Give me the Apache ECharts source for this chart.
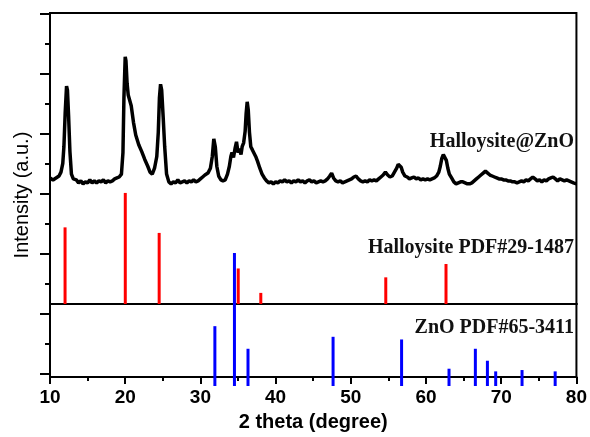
<!DOCTYPE html>
<html>
<head>
<meta charset="utf-8">
<script src="https://cdn.jsdelivr.net/npm/echarts@6.0.0/dist/echarts.min.js"></script>
<style>
  html, body { margin: 0; padding: 0; background: #fff; }
  #chart { width: 590px; height: 437px; }
</style>
</head>
<body>
<div id="chart"></div>
<script>
// Halloysite@ZnO measured pattern (2 theta in degree, counts a.u.)
const twoTheta = [
  10.0, 10.4, 10.8, 11.2, 11.46, 11.7, 11.85, 12.02, 12.2, 12.32, 12.48, 12.65, 12.85, 13.1, 13.5,
  13.8, 14.1, 14.4, 14.7, 15.0, 15.3, 15.6, 15.9, 16.2, 16.5, 16.8, 17.1, 17.4, 17.7, 18.0, 18.3, 18.6,
  18.9, 19.2, 19.5, 19.7, 19.83, 20.0, 20.1, 20.25, 20.4, 20.6, 20.8, 21.1, 21.4, 21.8, 22.2, 22.6,
  23.0, 23.3, 23.6, 23.9, 24.2, 24.4, 24.55, 24.7, 24.85, 25.05, 25.25, 25.5,
  25.8, 26.1, 26.4, 26.7, 27.0, 27.3, 27.6, 27.9, 28.2, 28.5, 28.8, 29.1, 29.4, 29.7, 30.0, 30.3,
  30.6, 31.0, 31.33, 31.58, 31.78, 31.98, 32.18, 32.43, 32.73, 33.0, 33.3, 33.6, 33.85, 34.05, 34.2,
  34.4, 34.6, 34.8, 35.0, 35.2, 35.4, 35.55, 35.75, 35.95, 36.08, 36.22, 36.36, 36.52, 36.7, 36.9,
  37.1, 37.35, 37.6, 37.9, 38.2, 38.5, 38.8, 39.1, 39.4, 39.7, 40.0,
  40.3, 40.6, 40.9, 41.2, 41.5, 41.8, 42.1, 42.4, 42.7, 43.0, 43.3, 43.6, 43.9, 44.2, 44.5, 44.8,
  45.1, 45.4, 45.7, 46.0, 46.3, 46.6, 46.9, 47.2, 47.45, 47.7, 48.0, 48.3, 48.6, 48.9, 49.2, 49.5,
  49.8, 50.1, 50.4, 50.7, 51.0, 51.3, 51.6, 51.9, 52.2, 52.5, 52.8, 53.1, 53.4, 53.7, 54.0, 54.3,
  54.6, 54.9, 55.2, 55.5, 55.8, 56.1, 56.3, 56.5, 56.7, 56.9, 57.2, 57.5, 57.8, 58.1, 58.4, 58.7,
  59.0, 59.3, 59.6, 59.9, 60.2, 60.5, 60.8, 61.1, 61.4, 61.7, 61.9, 62.1, 62.3, 62.5, 62.7, 62.9,
  63.1, 63.4, 63.7, 64.0, 64.3, 64.6, 64.9, 65.2, 65.5, 65.8, 66.1, 66.4, 66.7, 67.0, 67.3, 67.6,
  67.9, 68.2, 68.5, 68.8, 69.1, 69.4, 69.7, 70.0, 70.3, 70.6, 70.9, 71.2, 71.5, 71.8, 72.1, 72.4,
  72.7, 73.0, 73.3, 73.6, 73.9, 74.2, 74.5, 74.8, 75.1, 75.4, 75.7, 76.0, 76.3, 76.6, 76.9, 77.2,
  77.5, 77.8, 78.1, 78.4, 78.7, 79.0, 79.3, 79.6, 80.0
];
const compositeCounts = [
  1020, 1010, 1020, 1030, 1050, 1095, 1180, 1355, 1490, 1470, 1330, 1155, 1040, 1015, 1010,
  995, 1005, 990, 1000, 995, 1010, 995, 1005, 995, 1005, 1000, 1010, 995, 1005, 1000, 1005, 1015,
  1020, 1025, 1040, 1150, 1430, 1640, 1620, 1505, 1445, 1440, 1390, 1305, 1240, 1190, 1155, 1115,
  1080, 1050, 1040, 1070, 1130, 1255, 1430, 1500, 1470, 1330, 1180, 1040,
  1000, 990, 1000, 995, 1010, 995, 1000, 1005, 995, 1005, 1000, 1010, 1000, 1005, 1015, 1025,
  1035, 1045, 1070, 1130, 1220, 1180, 1080, 1030, 1010, 1005, 1010, 1040, 1080, 1130, 1150,
  1125, 1170, 1205, 1150, 1170, 1140, 1180, 1200, 1260, 1350, 1410, 1370, 1255, 1180, 1165,
  1155, 1130, 1105, 1070, 1040, 1020, 1005, 995, 1000, 990, 1000,
  995, 1005, 1000, 1010, 1000, 1005, 995, 1005, 1000, 1010, 1000, 1005, 995, 1005, 1010, 1000,
  1005, 995, 1000, 1005, 1000, 1005, 1015, 1030, 1045, 1020, 1005, 1000, 1005, 995, 1000, 1005,
  1010, 1015, 1025, 1030, 1015, 1005, 1000, 1005, 1000, 1010, 1005, 1010, 1005, 1015, 1025, 1035,
  1050, 1035, 1025, 1030, 1050, 1070, 1090, 1100, 1075, 1050, 1030, 1025, 1015, 1020, 1025, 1015,
  1020, 1010, 1015, 1010, 1015, 1010, 1015, 1020, 1030, 1050, 1080, 1120, 1140, 1135, 1110, 1070,
  1040, 1020, 1000, 990, 995, 1000, 1000, 995, 990, 990, 995, 1005, 1015, 1025, 1035, 1045,
  1055, 1045, 1035, 1030, 1025, 1020, 1015, 1015, 1010, 1010, 1005, 1005, 1000, 1000, 995, 1000,
  1005, 1000, 1010, 1005, 1015, 1025, 1015, 1005, 1010, 1000, 1010, 1005, 1015, 1020, 1025, 1015,
  1005, 1015, 1010, 1005, 1010, 1005, 1000, 995, 990
];

// Halloysite PDF#29-1487 reference lines (relative intensity)
const halloysiteTheta = [12.0, 20.0, 24.5, 35.0, 38.0, 54.6, 62.6];
const halloysiteInt = [69, 100, 64, 32, 10, 24, 36];

// ZnO PDF#65-3411 reference lines (relative intensity)
const znoTheta = [31.9, 34.5, 36.3, 47.6, 56.7, 63.0, 66.5, 68.1, 69.2, 72.7, 77.1];
const znoInt = [45, 100, 28, 37, 35, 13, 28, 19, 11, 12, 11];

const xTicks = { min: 10, max: 80, interval: 10 };

const chart = echarts.init(document.getElementById('chart'));

const black = '#000';
const noAxis = {
  show: true,
  axisLine: { show: false },
  axisTick: { show: false },
  axisLabel: { show: false },
  splitLine: { show: false }
};

const option = {
  animation: false,
  backgroundColor: '#fff',
  grid: [
    // main frame
    { left: 50, top: 13, width: 527, height: 373, show: true, borderColor: black, borderWidth: 2, backgroundColor: 'transparent' },
    // halloysite card panel
    { left: 50, top: 13, width: 527, height: 291 },
    // ZnO card panel
    { left: 50, top: 13, width: 527, height: 373 },
    // tick ruler
    { left: 50, top: 14, width: 527, height: 360 }
  ],
  xAxis: [
    {
      gridIndex: 0, type: 'value', min: xTicks.min, max: xTicks.max, interval: xTicks.interval,
      name: '2 theta (degree)', nameLocation: 'middle', nameGap: 28,
      nameTextStyle: { fontFamily: 'Liberation Sans', fontWeight: 'bold', fontSize: 20, color: black },
      axisLine: { show: true, lineStyle: { color: black, width: 2 } },
      axisTick: { show: true, length: 7, lineStyle: { color: black, width: 2 } },
      minorTick: { show: true, splitNumber: 2, length: 4, lineStyle: { color: black, width: 2 } },
      axisLabel: { show: true, margin: 11, fontFamily: 'Liberation Sans', fontWeight: 'bold', fontSize: 19, color: black },
      splitLine: { show: false }
    },
    {
      gridIndex: 1, type: 'value', min: xTicks.min, max: xTicks.max,
      axisLine: { show: true, lineStyle: { color: black, width: 2 } },
      axisTick: { show: false }, axisLabel: { show: false }, splitLine: { show: false }
    },
    Object.assign({ gridIndex: 2, type: 'value', min: xTicks.min, max: xTicks.max }, noAxis),
    Object.assign({ gridIndex: 3, type: 'value', min: xTicks.min, max: xTicks.max }, noAxis)
  ],
  yAxis: [
    {
      gridIndex: 0, type: 'value', min: 0, max: 1865,
      name: 'Intensity (a.u.)', nameLocation: 'middle', nameGap: 18,
      nameTextStyle: { fontFamily: 'Liberation Sans', fontSize: 20, color: black },
      axisLine: { show: true, lineStyle: { color: black, width: 2 } },
      axisTick: { show: false }, axisLabel: { show: false }, splitLine: { show: false }
    },
    Object.assign({ gridIndex: 1, type: 'value', min: 0, max: 262 }, noAxis),
    Object.assign({ gridIndex: 2, type: 'value', min: 0, max: 280.5 }, noAxis),
    {
      gridIndex: 3, type: 'value', min: 0, max: 12, interval: 2,
      axisLine: { show: false },
      axisTick: { show: true, length: 10, lineStyle: { color: black, width: 2 } },
      minorTick: { show: true, splitNumber: 2, length: 5, lineStyle: { color: black, width: 2 } },
      axisLabel: { show: false }, splitLine: { show: false }, minorSplitLine: { show: false }
    }
  ],
  series: [
    {
      name: 'Halloysite@ZnO', type: 'line', xAxisIndex: 0, yAxisIndex: 0,
      data: twoTheta.map((t, i) => [t, compositeCounts[i]]),
      showSymbol: false, symbol: 'none',
      lineStyle: { color: black, width: 3.5 }, z: 3
    },
    {
      name: 'Halloysite PDF#29-1487', type: 'bar', xAxisIndex: 1, yAxisIndex: 1,
      data: halloysiteTheta.map((t, i) => [t, halloysiteInt[i]]),
      barWidth: 3, itemStyle: { color: '#ff0000' }, z: 2
    },
    {
      name: 'ZnO PDF#65-3411', type: 'bar', xAxisIndex: 2, yAxisIndex: 2,
      data: znoTheta.map((t, i) => [t, znoInt[i]]),
      barWidth: 3, itemStyle: { color: '#0000ff' }, z: 4
    }
  ],
  graphic: [
    { type: 'text', x: 574, y: 142, style: { text: 'Halloysite@ZnO', align: 'right', textAlign: 'right', verticalAlign: 'middle', textVerticalAlign: 'middle', font: 'bold 20px "Liberation Serif"', fill: '#111' } },
    { type: 'text', x: 574, y: 248, style: { text: 'Halloysite PDF#29-1487', align: 'right', textAlign: 'right', verticalAlign: 'middle', textVerticalAlign: 'middle', font: 'bold 20px "Liberation Serif"', fill: '#111' } },
    { type: 'text', x: 574, y: 328, style: { text: 'ZnO PDF#65-3411', align: 'right', textAlign: 'right', verticalAlign: 'middle', textVerticalAlign: 'middle', font: 'bold 20px "Liberation Serif"', fill: '#111' } }
  ]
};

chart.setOption(option);
</script>
</body>
</html>
